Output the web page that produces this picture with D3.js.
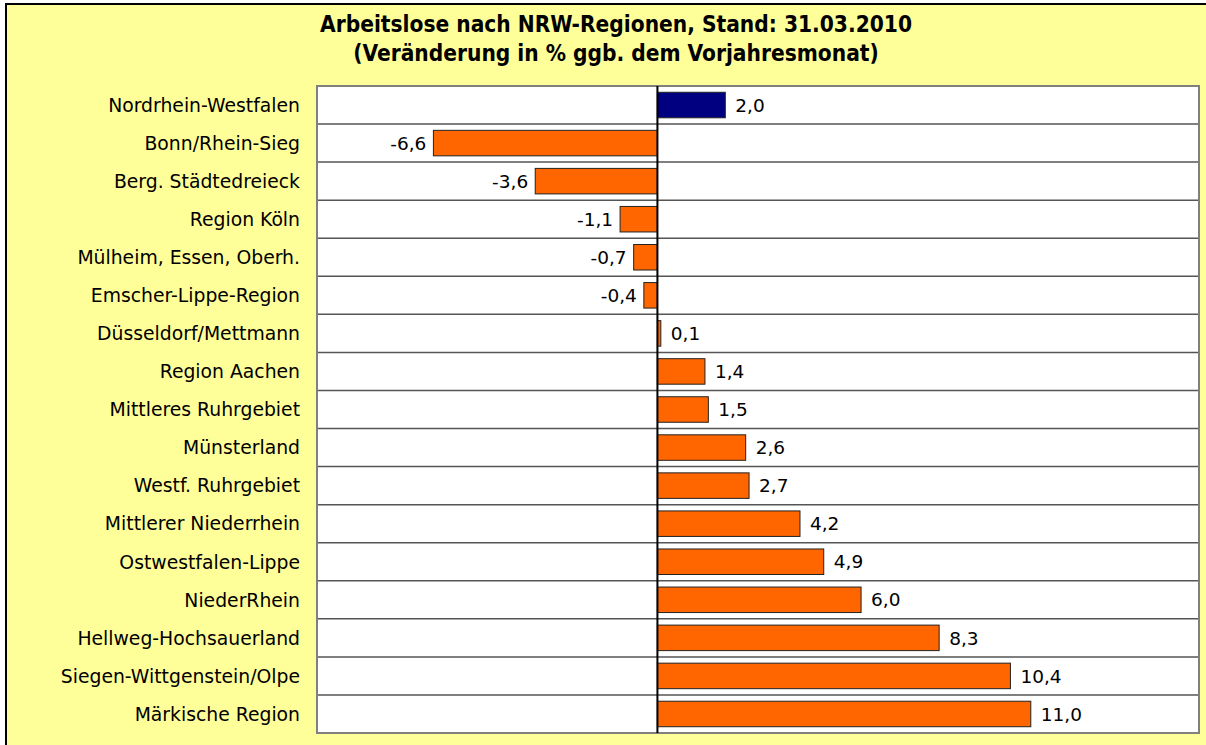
<!DOCTYPE html>
<html lang="de">
<head>
<meta charset="UTF-8">
<title>Arbeitslose nach NRW-Regionen</title>
<script src="https://d3js.org/d3.v7.min.js"></script>
<style>
  body { margin: 0; background: #fff; }
  svg { display: block; }
</style>
</head>
<body>
<svg width="1206" height="745"></svg>
<script>
// Regionen und Veränderung in % ggb. Vorjahresmonat
const regions = [
  "Nordrhein-Westfalen", "Bonn/Rhein-Sieg", "Berg. Städtedreieck", "Region Köln",
  "Mülheim, Essen, Oberh.", "Emscher-Lippe-Region", "Düsseldorf/Mettmann",
  "Region Aachen", "Mittleres Ruhrgebiet", "Münsterland", "Westf. Ruhrgebiet",
  "Mittlerer Niederrhein", "Ostwestfalen-Lippe", "NiederRhein",
  "Hellweg-Hochsauerland", "Siegen-Wittgenstein/Olpe", "Märkische Region"
];
const changes = [2.0, -6.6, -3.6, -1.1, -0.7, -0.4, 0.1, 1.4, 1.5, 2.6, 2.7, 4.2, 4.9, 6.0, 8.3, 10.4, 11.0];
const xDomain = [-10, 16];
const titleLines = [
  "Arbeitslose nach NRW-Regionen, Stand: 31.03.2010",
  "(Veränderung in % ggb. dem Vorjahresmonat)"
];

const data = regions.map((r, i) => ({ region: r, value: changes[i] }));

const svg = d3.select("svg");
const font = "'DejaVu Sans', sans-serif";
const fmt = v => d3.format(".1f")(v).replace(".", ",").replace("−", "-");

// yellow frame
svg.append("rect")
   .attr("x", 6).attr("y", 4)
   .attr("width", 1220).attr("height", 760)
   .attr("fill", "#ffff99")
   .attr("stroke", "#000")
   .attr("stroke-width", 2);

const plot = { left: 317, right: 1199, top: 86, bottom: 733 };

const x = d3.scaleLinear().domain(xDomain).range([318, 1200.5]);
const y = d3.scaleBand().domain(regions).range([plot.top, plot.bottom]).paddingInner(0.33).paddingOuter(0.165);
const row = d3.scaleBand().domain(regions).range([plot.top, plot.bottom]);

// plot background
svg.append("rect")
   .attr("x", plot.left).attr("y", plot.top)
   .attr("width", plot.right - plot.left).attr("height", plot.bottom - plot.top)
   .attr("fill", "#fff");

// row separators
svg.append("g")
   .selectAll("line")
   .data(regions.slice(1))
   .join("line")
   .attr("x1", plot.left).attr("x2", plot.right)
   .attr("y1", d => row(d)).attr("y2", d => row(d))
   .attr("stroke", "#555")
   .attr("stroke-width", 1.5);

svg.append("rect")
   .attr("x", plot.left).attr("y", plot.top)
   .attr("width", plot.right - plot.left).attr("height", plot.bottom - plot.top)
   .attr("fill", "none")
   .attr("stroke", "#808080")
   .attr("stroke-width", 2);

// bars
svg.append("g")
   .selectAll("rect")
   .data(data)
   .join("rect")
   .attr("x", d => x(Math.min(0, d.value)))
   .attr("y", d => y(d.region))
   .attr("width", d => Math.abs(x(d.value) - x(0)))
   .attr("height", y.bandwidth())
   .attr("fill", (d, i) => i === 0 ? "#000080" : "#ff6600")
   .attr("stroke", "#222")
   .attr("stroke-width", 1);

// zero line
svg.append("line")
   .attr("x1", x(0)).attr("x2", x(0))
   .attr("y1", plot.top).attr("y2", plot.bottom)
   .attr("stroke", "#000")
   .attr("stroke-width", 2);

// value labels
svg.append("g")
   .selectAll("text")
   .data(data)
   .join("text")
   .attr("x", d => d.value < 0 ? x(d.value) - 7 : x(d.value) + 10)
   .attr("y", d => y(d.region) + y.bandwidth() / 2)
   .attr("dy", "0.36em")
   .attr("text-anchor", d => d.value < 0 ? "end" : "start")
   .style("font-family", font)
   .style("font-size", "18.5px")
   .attr("fill", "#000")
   .text(d => fmt(d.value));

// category labels
svg.append("g")
   .selectAll("text")
   .data(regions)
   .join("text")
   .attr("x", 300)
   .attr("y", d => y(d) + y.bandwidth() / 2)
   .attr("dy", "0.36em")
   .attr("text-anchor", "end")
   .style("font-family", font)
   .style("font-size", "18.8px")
   .attr("fill", "#000")
   .text(d => d);

// title
svg.append("g")
   .selectAll("text")
   .data(titleLines)
   .join("text")
   .attr("x", 616)
   .attr("y", (d, i) => 32 + i * 29)
   .attr("text-anchor", "middle")
   .style("font-family", "'DejaVu Sans Condensed', 'Liberation Sans Narrow', sans-serif")
   .style("font-size", "22.5px")
   .style("font-weight", "bold")
   .attr("fill", "#000")
   .text(d => d);
</script>
</body>
</html>
